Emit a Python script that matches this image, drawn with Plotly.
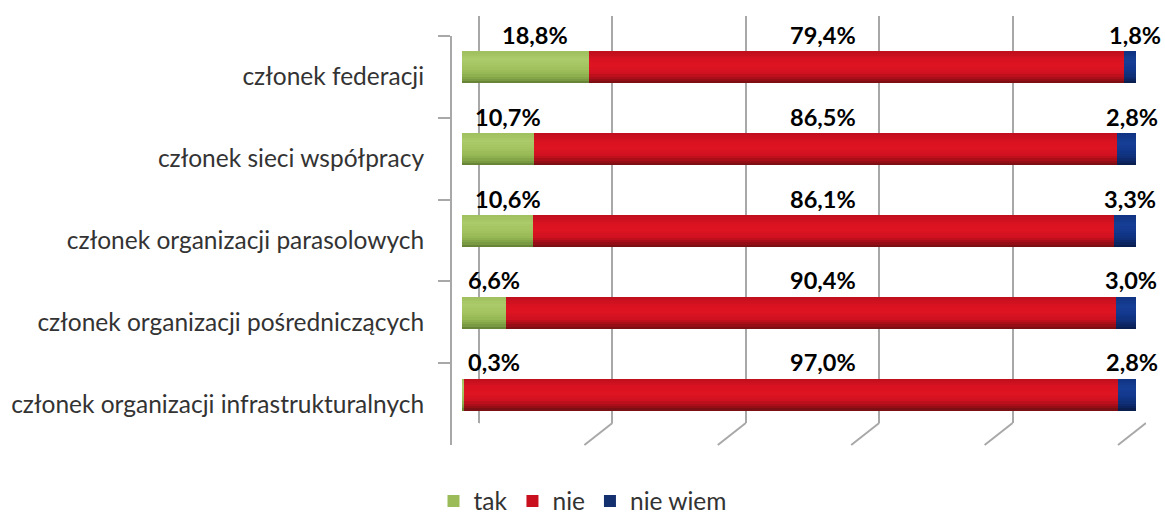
import plotly.graph_objects as go

# --- data -------------------------------------------------------------
categories = [
    "członek federacji",
    "członek sieci współpracy",
    "członek organizacji parasolowych",
    "członek organizacji pośredniczących",
    "członek organizacji infrastrukturalnych",
]
tak = [18.8, 10.7, 10.6, 6.6, 0.3]
nie = [79.4, 86.5, 86.1, 90.4, 97.0]
nie_wiem = [1.8, 2.8, 3.3, 3.0, 2.8]
series_names = ["tak", "nie", "nie wiem"]
x_ticks = [0, 20, 40, 60, 80, 100]

# --- styling ------------------------------------------------------------
W, H = 1165, 514
GRID = "#a8a8a8"
LABEL_FONT = "Lato"
N_BANDS = 14

# colour stops (position from top of the bar 0..1, colour) for a cylinder look
stops = {
    "tak": [(0.0, "#9fbf60"), (0.25, "#abca6a"), (0.5, "#a2c360"), (0.72, "#93b552"),
            (0.88, "#7c9d44"), (1.0, "#5e7a32")],
    "nie": [(0.0, "#bd0f1c"), (0.25, "#d81220"), (0.45, "#e01422"), (0.68, "#cf1120"),
            (0.86, "#a00d17"), (1.0, "#701012")],
    "nie wiem": [(0.0, "#0f3280"), (0.3, "#163f96"), (0.55, "#12388c"), (0.75, "#0f2f78"),
                 (0.9, "#0c2560"), (1.0, "#091b45")],
}
legend_color = {"tak": "#9bbb59", "nie": "#c8101e", "nie wiem": "#15306e"}


def hex_to_rgb(h):
    h = h.lstrip("#")
    return [int(h[i:i + 2], 16) for i in (0, 2, 4)]


def shade_at(name, t):
    pts = stops[name]
    for (t0, c0), (t1, c1) in zip(pts[:-1], pts[1:]):
        if t0 <= t <= t1:
            f = 0 if t1 == t0 else (t - t0) / (t1 - t0)
            a, b = hex_to_rgb(c0), hex_to_rgb(c1)
            r, g, bl = (round(a[i] + (b[i] - a[i]) * f) for i in range(3))
            return f"rgb({r},{g},{bl})"
    return pts[-1][1]


def xdom(a, b):
    return [a / W, b / W]


def ydom(top, bottom):
    return [1 - bottom / H, 1 - top / H]


# bar geometry in category units (front category pitch ~82 px)
pitch = (445 - 36) / len(categories)
bar_thick = 32 / pitch
lift = -9.5 / pitch         # bars sit a little behind the front plane
band = bar_thick / N_BANDS
top_edge = lift - bar_thick / 2

fig = go.Figure()

values = {"tak": tak, "nie": nie, "nie wiem": nie_wiem}
bases = {
    "tak": [0.0] * len(categories),
    "nie": list(tak),
    "nie wiem": [a + b for a, b in zip(tak, nie)],
}

for name in series_names:
    for k in range(N_BANDS):
        last = k == N_BANDS - 1
        fig.add_trace(go.Bar(
            y=categories,
            x=values[name],
            base=bases[name],
            orientation="h",
            width=band * (1.0 if last else 1.8),
            offset=top_edge + k * band,
            marker=dict(color=shade_at(name, (k + 0.5) / N_BANDS), line=dict(width=0)),
            name=name,
            legendgroup=name,
            showlegend=False,
            hoverinfo="skip",
            xaxis="x2",
            yaxis="y2",
        ))

# legend entries with flat colours
for name in series_names:
    fig.add_trace(go.Bar(
        y=[None], x=[None], orientation="h",
        marker=dict(color=legend_color[name], line=dict(width=0)),
        name=name, legendgroup=name, showlegend=True,
        hoverinfo="skip", xaxis="x2", yaxis="y2",
    ))


def fmt(v):
    return f"{v:.1f}".replace(".", ",") + "%"


label_font = dict(family=LABEL_FONT, size=23.5, color="#000000", weight="bold")
annotations = []
for i, cat in enumerate(categories):
    annotations.append(dict(
        x=max(tak[i] / 2 + 1.5, 4.8), y=cat, xref="x2", yref="y2",
        text=fmt(tak[i]), showarrow=False, font=label_font, yshift=42,
    ))
    annotations.append(dict(
        x=(tak[i] + nie[i] + nie_wiem[i]) / 2, y=cat, xref="x2", yref="y2",
        text=fmt(nie[i]), showarrow=False, font=label_font, yshift=42, xshift=24,
    ))
    annotations.append(dict(
        x=tak[i] + nie[i] + nie_wiem[i] / 2, y=cat, xref="x2", yref="y2",
        text=fmt(nie_wiem[i]), showarrow=False, font=label_font, yshift=42, xshift=5,
    ))

# floor edges of the 3D frame, running from the back wall to the front
shapes = []
for v in x_ticks:
    shapes.append(dict(
        type="line", xref="x", yref="y domain",
        xsizemode="pixel", ysizemode="pixel",
        xanchor=v, yanchor=0, x0=0, y0=0, x1=-28, y1=-22,
        line=dict(color=GRID, width=2),
    ))
# top edge of the side wall
shapes.append(dict(
    type="line", xref="x", yref="y domain",
    xsizemode="pixel", ysizemode="pixel",
    xanchor=0, yanchor=1, x0=0, y0=0, x1=-27, y1=-18,
    line=dict(color=GRID, width=2),
))

fig.update_layout(
    width=W, height=H,
    margin=dict(l=0, r=0, t=0, b=0, autoexpand=False),
    paper_bgcolor="white",
    plot_bgcolor="rgba(0,0,0,0)",
    barmode="overlay",
    bargap=0,
    showlegend=True,
    legend=dict(
        orientation="h", x=0.5, xanchor="center",
        yref="container", y=1 - 501 / H, yanchor="middle",
        font=dict(family=LABEL_FONT, size=24.5, color="#333333"),
        bgcolor="rgba(0,0,0,0)",
        traceorder="normal",
        itemwidth=30,
    ),
    # back wall: gridlines
    xaxis=dict(
        domain=xdom(479, 1146), range=[0, 100], anchor="y",
        tickmode="array", tickvals=x_ticks,
        showgrid=True, gridcolor=GRID, gridwidth=2,
        zeroline=True, zerolinecolor=GRID, zerolinewidth=2,
        showticklabels=False, ticks="", showline=False, automargin=False,
    ),
    yaxis=dict(
        domain=ydom(16, 423), range=[0, 1], anchor="x",
        showgrid=False, zeroline=False, showticklabels=False,
        ticks="", showline=False, automargin=False,
    ),
    # bars and category labels
    xaxis2=dict(
        domain=xdom(462, 1136), range=[0, 100], anchor="y2",
        showgrid=False, zeroline=False, showticklabels=False,
        ticks="", showline=False, automargin=False,
    ),
    yaxis2=dict(
        domain=ydom(36, 445), anchor="free", position=451 / W,
        type="category", categoryorder="array", categoryarray=categories,
        range=[len(categories) - 0.5, -0.5],
        showgrid=False, zeroline=False,
        showline=True, linecolor=GRID, linewidth=2,
        ticks="outside", tickson="boundaries", ticklen=12,
        tickcolor=GRID, tickwidth=2,
        ticklabelstandoff=21,
        tickfont=dict(family=LABEL_FONT, size=24.5, color="#333333"),
        automargin=False,
    ),
    annotations=annotations,
    shapes=shapes,
)

fig.write_html("out.html")
